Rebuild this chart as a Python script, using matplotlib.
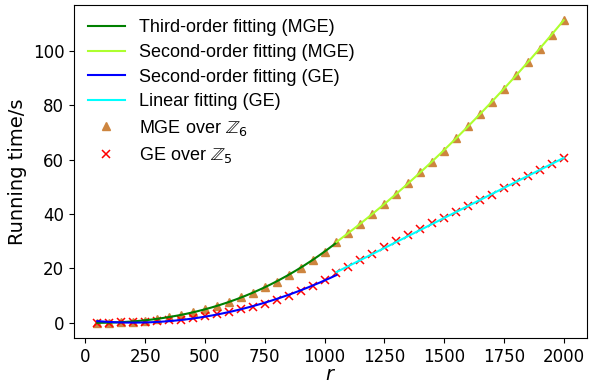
import numpy as np
import matplotlib
matplotlib.use("Agg")
import matplotlib.pyplot as plt

r = [50, 100, 150, 200, 250, 300, 350, 400, 450, 500,
     550, 600, 650, 700, 750, 800, 850, 900, 950, 1000,
     1050, 1100, 1150, 1200, 1250, 1300, 1350, 1400, 1450, 1500,
     1550, 1600, 1650, 1700, 1750, 1800, 1850, 1900, 1950, 2000]

mge_time = [0.05, 0.1, 0.2, 0.4, 0.8, 1.4, 2.1, 2.9, 3.8, 5.0,
            6.3, 7.8, 9.4, 11.1, 13.0, 15.1, 17.5, 20.2, 23.0, 26.2,
            29.6, 33.0, 36.4, 40.0, 43.7, 47.5, 51.5, 55.5, 59.2, 63.3,
            67.8, 72.2, 76.6, 81.2, 86.0, 91.0, 95.9, 100.8, 106.0, 111.3]

ge_time = [0.05, 0.1, 0.15, 0.25, 0.4, 0.6, 0.9, 1.2, 1.7, 2.4,
           3.1, 3.9, 4.9, 5.9, 7.0, 8.4, 9.9, 11.6, 13.6, 15.8,
           18.2, 20.6, 23.0, 25.2, 27.7, 29.9, 32.1, 34.5, 36.6, 38.6,
           40.8, 43.0, 45.0, 47.1, 49.6, 51.7, 53.9, 56.3, 58.4, 60.5]

split_r = 1050

r_arr = np.array(r, dtype=float)
mge = np.array(mge_time)
ge = np.array(ge_time)
low = r_arr <= split_r
high = r_arr >= split_r

xl = np.linspace(r_arr[low].min(), split_r, 200)
xh = np.linspace(split_r, r_arr[high].max(), 200)

p_mge3 = np.polyfit(r_arr[low], mge[low], 3)
p_mge2 = np.polyfit(r_arr[high], mge[high], 2)
p_ge2 = np.polyfit(r_arr[low], ge[low], 2)
p_ge1 = np.polyfit(r_arr[high], ge[high], 1)

fig = plt.figure(figsize=(5.89, 3.83), dpi=100)
ax = fig.add_axes([0.1256, 0.1175, 0.871, 0.8695])

h_tri, = ax.plot(r_arr, mge, linestyle='none', marker='^', color='peru',
                 markersize=5.5, zorder=2, label=r'MGE over $\mathbb{Z}_6$')
h_x, = ax.plot(r_arr, ge, linestyle='none', marker='x', color='red',
               markersize=5.5, markeredgewidth=1.1, zorder=2, label=r'GE over $\mathbb{Z}_5$')
h1, = ax.plot(xl, np.polyval(p_mge3, xl), color='green', lw=1.5, zorder=3,
              label='Third-order fitting (MGE)')
h2, = ax.plot(xh, np.polyval(p_mge2, xh), color='greenyellow', lw=1.5, zorder=3,
              label='Second-order fitting (MGE)')
h3, = ax.plot(xl, np.polyval(p_ge2, xl), color='blue', lw=1.5, zorder=3,
              label='Second-order fitting (GE)')
h4, = ax.plot(xh, np.polyval(p_ge1, xh), color='cyan', lw=1.5, zorder=3,
              label='Linear fitting (GE)')

ax.set_xticks([0, 250, 500, 750, 1000, 1250, 1500, 1750, 2000])
ax.set_yticks([0, 20, 40, 60, 80, 100])
ax.tick_params(labelsize=12)
ax.set_xlabel(r'$r$', fontsize=14, labelpad=-0.5)
ax.set_ylabel('Running time/s', fontsize=14)

ax.legend(handles=[h1, h2, h3, h4, h_tri, h_x], loc='upper left', frameon=False,
          prop={'family': 'Liberation Sans', 'size': 13}, labelspacing=0.42,
          borderaxespad=0.4)

fig.savefig('out.png', dpi=100)
